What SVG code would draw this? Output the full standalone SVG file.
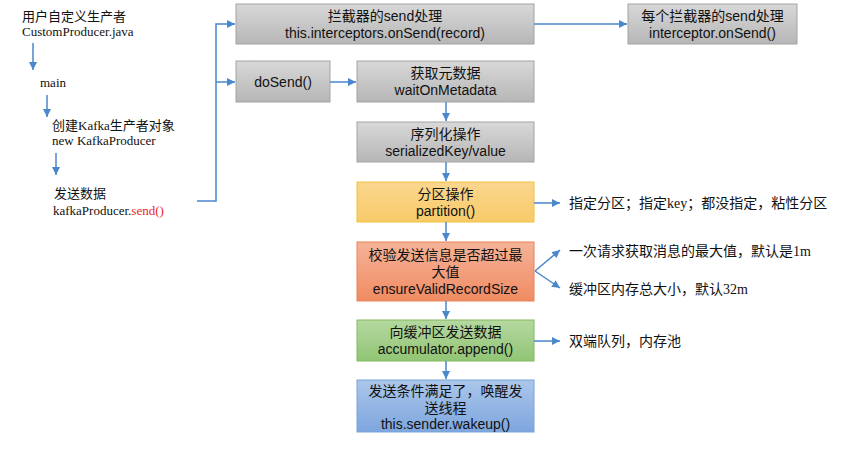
<svg xmlns="http://www.w3.org/2000/svg" width="863" height="451" viewBox="0 0 863 451">
<defs>
<linearGradient id="gGray" x1="0" y1="0" x2="0" y2="1"><stop offset="0" stop-color="#d8d8d8"/><stop offset="1" stop-color="#b6b6b6"/></linearGradient>
<linearGradient id="gYellow" x1="0" y1="0" x2="0" y2="1"><stop offset="0" stop-color="#fad68e"/><stop offset="1" stop-color="#f8ca68"/></linearGradient>
<linearGradient id="gOrange" x1="0" y1="0" x2="0" y2="1"><stop offset="0" stop-color="#f5b399"/><stop offset="1" stop-color="#f08b62"/></linearGradient>
<linearGradient id="gGreen" x1="0" y1="0" x2="0" y2="1"><stop offset="0" stop-color="#b5d89f"/><stop offset="1" stop-color="#91c575"/></linearGradient>
<linearGradient id="gBlue" x1="0" y1="0" x2="0" y2="1"><stop offset="0" stop-color="#abc6ea"/><stop offset="1" stop-color="#7ea6de"/></linearGradient>
<marker id="ah" viewBox="0 0 10 10" refX="10" refY="5" markerWidth="8" markerHeight="8" markerUnits="userSpaceOnUse" orient="auto">
<path d="M0,0 L10,5 L0,10 z" fill="#4a87cc"/>
</marker>
<style>
.box text{font-family:"Liberation Sans","Noto Sans CJK SC",sans-serif;font-size:14px;fill:#111;text-anchor:middle}
.gray{fill:url(#gGray);stroke:#a3a3a3;stroke-width:1}
.yellow{fill:url(#gYellow);stroke:#f3c13e;stroke-width:1}
.orange{fill:url(#gOrange);stroke:#ea8256;stroke-width:1}
.green{fill:url(#gGreen);stroke:#80bb5f;stroke-width:1}
.blue{fill:url(#gBlue);stroke:#7aa3da;stroke-width:1}
.lt{font-family:"Liberation Serif","Noto Sans CJK SC",serif;font-size:13px;fill:#111}
.rt{font-family:"Liberation Serif","Noto Sans CJK SC",serif;font-size:14px;fill:#111}
.red{fill:#e8262a}
#connectors path,#connectors line{fill:none;stroke:#4a87cc;stroke-width:1.5}
</style>
</defs>
<rect width="863" height="451" fill="#ffffff"/>

<g id="left-labels">
<text class="lt" x="22" y="21">用户自定义生产者</text>
<text class="lt" x="22" y="36">CustomProducer.java</text>
<text class="lt" x="40" y="87">main</text>
<text class="lt" x="52" y="130">创建Kafka生产者对象</text>
<text class="lt" x="52" y="145">new KafkaProducer</text>
<text class="lt" x="54" y="198">发送数据</text>
<text class="lt" x="53" y="215">kafkaProducer.<tspan class="red">send()</tspan></text>
</g>

<g id="n-interceptors" class="box">
<rect class="gray" x="236" y="4" width="298" height="40"/>
<text x="385" y="21">拦截器的send处理</text>
<text x="385" y="38">this.interceptors.onSend(record)</text>
</g>
<g id="n-each-interceptor" class="box">
<rect class="gray" x="628" y="4" width="169" height="40"/>
<text x="712.5" y="21">每个拦截器的send处理</text>
<text x="712.5" y="38">interceptor.onSend()</text>
</g>
<g id="n-dosend" class="box">
<rect class="gray" x="236" y="61" width="94" height="41"/>
<text x="283" y="87">doSend()</text>
</g>
<g id="n-metadata" class="box">
<rect class="gray" x="357" y="61" width="177" height="41"/>
<text x="445.5" y="78">获取元数据</text>
<text x="445.5" y="95">waitOnMetadata</text>
</g>
<g id="n-serialize" class="box">
<rect class="gray" x="357" y="122" width="177" height="40"/>
<text x="445.5" y="139">序列化操作</text>
<text x="445.5" y="156">serializedKey/value</text>
</g>
<g id="n-partition" class="box">
<rect class="yellow" x="357" y="182" width="177" height="40"/>
<text x="445.5" y="199">分区操作</text>
<text x="445.5" y="216">partition()</text>
</g>
<g id="n-validate" class="box">
<rect class="orange" x="357" y="242" width="177" height="59"/>
<text x="445.5" y="260">校验发送信息是否超过最</text>
<text x="445.5" y="277">大值</text>
<text x="445.5" y="294">ensureValidRecordSize</text>
</g>
<g id="n-append" class="box">
<rect class="green" x="357" y="320" width="177" height="41"/>
<text x="445.5" y="337">向缓冲区发送数据</text>
<text x="445.5" y="354">accumulator.append()</text>
</g>
<g id="n-wakeup" class="box">
<rect class="blue" x="357" y="380" width="177" height="52"/>
<text x="445.5" y="396">发送条件满足了，唤醒发</text>
<text x="445.5" y="413">送线程</text>
<text x="445.5" y="429">this.sender.wakeup()</text>
</g>

<g id="right-labels">
<text class="rt" x="569" y="208">指定分区；指定key；都没指定，粘性分区</text>
<text class="rt" x="569" y="256">一次请求获取消息的最大值，默认是1m</text>
<text class="rt" x="569" y="294">缓冲区内存总大小，默认32m</text>
<text class="rt" x="569" y="346">双端队列，内存池</text>
</g>

<g id="connectors">
<line x1="33" y1="43" x2="33" y2="70" marker-end="url(#ah)"/>
<line x1="47" y1="95" x2="47" y2="117" marker-end="url(#ah)"/>
<line x1="56" y1="153" x2="56" y2="175" marker-end="url(#ah)"/>
<path d="M197,201 H216 V24 H235" marker-end="url(#ah)"/>
<path d="M216,82 H235" marker-end="url(#ah)"/>
<path d="M534,24 H627" marker-end="url(#ah)"/>
<path d="M330,82 H356" marker-end="url(#ah)"/>
<path d="M446,102 V121" marker-end="url(#ah)"/>
<path d="M446,162 V181" marker-end="url(#ah)"/>
<path d="M446,222 V241" marker-end="url(#ah)"/>
<path d="M446,301 V319" marker-end="url(#ah)"/>
<path d="M446,361 V379" marker-end="url(#ah)"/>
<path d="M534,203 H560" marker-end="url(#ah)"/>
<path d="M535,271 L560,250" marker-end="url(#ah)"/>
<path d="M535,271 L560,288" marker-end="url(#ah)"/>
<path d="M534,341 H560" marker-end="url(#ah)"/>
</g>
</svg>
